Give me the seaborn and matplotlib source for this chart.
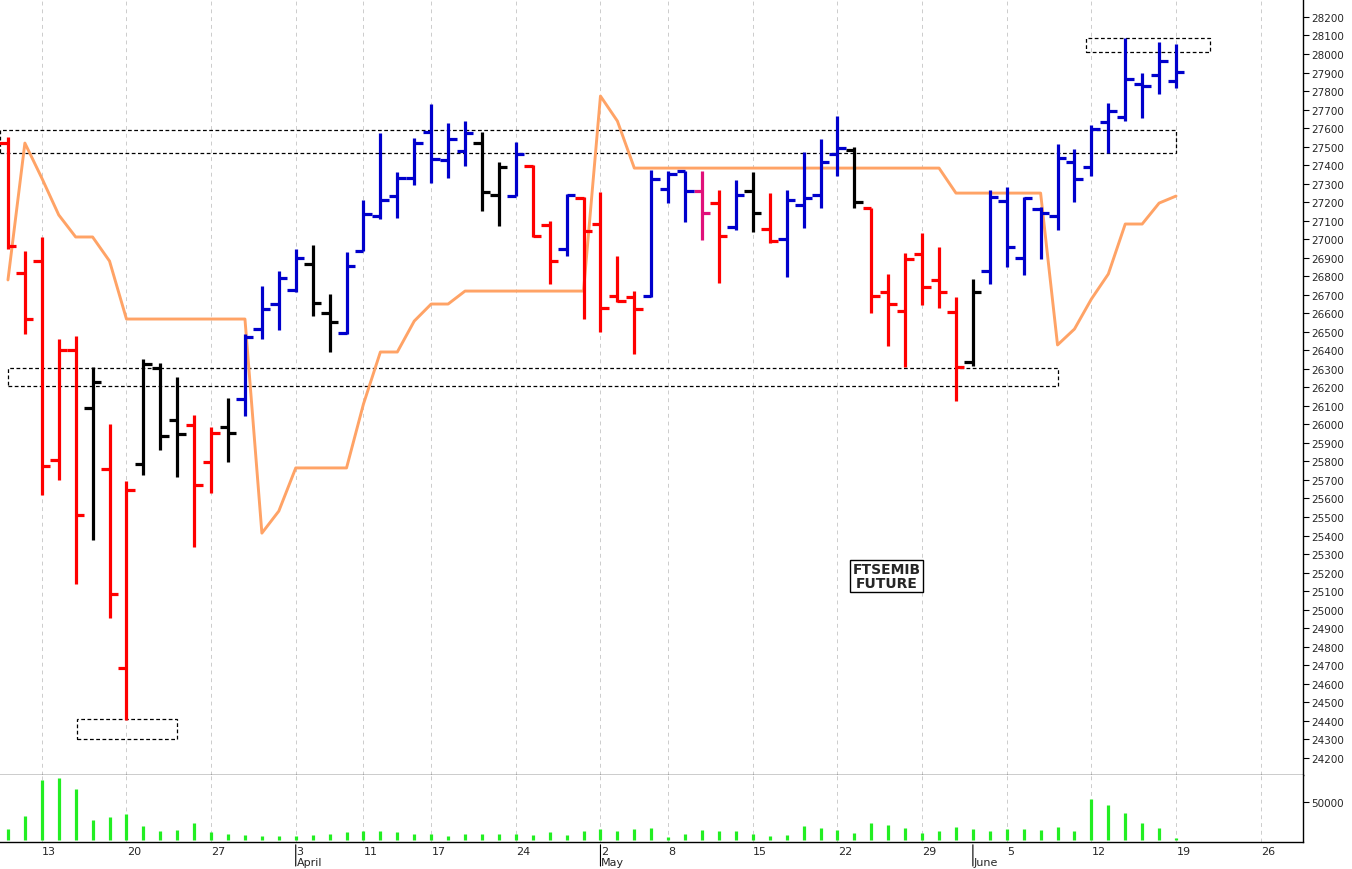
import numpy as np
import matplotlib
matplotlib.use("Agg")
import matplotlib.pyplot as plt
import matplotlib.transforms as mtrans
import seaborn as sns
import pandas as pd
from matplotlib.patches import Rectangle

opens = [27519,26817,26882,25808,26402,26088,25759,24684,25786,26304,26024,25997,25797,25986,26137,26515,26650,26726,26866,26601,
         26493,26936,27125,27233,27330,27579,27428,27476,27519,27239,27233,27395,27077,26947,27222,27082,26693,26688,26693,27271,
         27368,27260,27195,27066,27260,27055,27001,27185,27239,27460,27482,27168,26715,26612,26920,26780,26607,26337,26828,27206,
         26898,27163,27125,27417,27390,27633,27660,27838,27887,27854]
highs = [27552,26936,27012,26461,26477,26310,26002,25694,26353,26331,26256,26051,25986,26142,26488,26747,26828,26947,26968,26704,
         26931,27212,27573,27363,27547,27730,27627,27638,27579,27417,27525,27401,27098,27244,27228,27255,26909,26720,27374,27368,
         27368,27368,27266,27320,27363,27249,27266,27471,27541,27665,27498,27168,26812,26925,27033,26958,26688,26785,27266,27282,
         27228,27174,27514,27487,27617,27735,28086,27897,28065,28054]
lows = [26947,26488,25619,25700,25138,25376,24954,24404,25727,25862,25716,25338,25629,25797,26045,26461,26510,26715,26585,26391,
        26488,26936,27109,27114,27293,27303,27330,27395,27152,27071,27233,27012,26758,26909,26569,26499,26661,26380,26688,27195,
        27093,26996,26763,27050,27039,26979,26796,27060,27168,27341,27168,26601,26423,26310,26645,26628,26126,26315,26758,26850,
        26807,26893,27050,27201,27341,27465,27638,27654,27784,27816]
closes = [26963,26569,25775,26402,25511,26229,25084,25646,26326,25937,25948,25673,25953,25953,26472,26623,26790,26898,26655,26553,
          26855,27136,27212,27330,27519,27433,27541,27573,27255,27390,27460,27017,26882,27239,27044,26628,26666,26623,27325,27352,
          27260,27141,27017,27239,27141,26990,27212,27222,27417,27492,27201,26693,26650,26893,26742,26715,26310,26715,27228,26958,
          27222,27141,27438,27325,27595,27692,27865,27827,27962,27903]
bar_colors = (["r"]*5 + ["k"] + ["r"]*2 + ["k"]*3 + ["r"]*2 + ["k"] + ["b"]*4 + ["k"]*2 + ["b"]*8 + ["k"]*2 + ["b"] + ["r"]*2
              + ["b"] + ["r"]*4 + ["b"]*3 + ["m"] + ["r"] + ["b"] + ["k"] + ["r"] + ["b"]*4 + ["k"] + ["r"]*6 + ["k"] + ["b"]*12)
stop_line = [26780,27519,27330,27131,27012,27012,26882,26569,26569,26569,26569,26569,26569,26569,26569,25413,25532,25765,25765,25765,
             25765,26110,26391,26391,26558,26650,26650,26720,26720,26720,26720,26720,26720,26720,26720,27773,27638,27384,27384,27384,
             27384,27384,27384,27384,27384,27384,27384,27384,27384,27384,27384,27384,27384,27384,27384,27384,27249,27249,27249,27249,
             27249,27249,26429,26515,26677,26812,27082,27082,27195,27233]
volume = [15,32,80,82,68,27,31,35,19,12,14,23,11,8,7,5,5,5,7,8,
          11,12,12,11,8,8,5,8,8,8,8,7,11,7,12,15,12,15,16,4,
          8,14,12,12,8,5,7,19,16,14,9,23,20,16,9,12,18,15,12,15,
          15,14,18,12,54,46,36,23,16,3]
day_ticks = [2,7,12,17,21,25,30,35,39,44,49,54,59,64,69,74]
day_labels = ["13","20","27","3","11","17","24","2","8","15","22","29","5","12","19","26"]
month_pos = [17,35,57]
month_labels = ["April","May","June"]
price_ticks = list(range(24200, 28201, 100))

cmap = {"r": "#ff0000", "k": "#000000", "b": "#0000cc", "m": "#e0107a"}
n = len(opens)
x = np.arange(n)

sns.set_style("white")
plt.rcParams["axes.edgecolor"] = "black"
fig = plt.figure(figsize=(13.52, 8.7), dpi=100)
ax = fig.add_axes([0, 1-776/870, 1303/1352, 776/870])
axv = fig.add_axes([0, 1-843/870, 1303/1352, 67/870], sharex=ax)

xl = (-0.47, 76.5)
for a in (ax, axv):
    for t in day_ticks:
        a.axvline(t, color="#cccccc", lw=0.7, ls=(0, (4, 4)), zorder=0)

for (x0, x1, y0, y1) in [(63.7, 71.0, 28011, 28086), (xl[0], 69.0, 27465, 27590),
                         (0.0, 62.0, 26207, 26304), (4.1, 10.0, 24301, 24409)]:
    ax.add_patch(Rectangle((x0, y0), x1-x0, y1-y0, fill=False, ls=(0, (3, 2)), lw=0.9, ec="black", zorder=1))

df = pd.DataFrame({"x": x, "stop": stop_line})
sns.lineplot(data=df, x="x", y="stop", ax=ax, color="#ffa366", lw=2.1, zorder=2)

cols = [cmap[c] for c in bar_colors]
ax.vlines(x, lows, highs, colors=cols, lw=2.3, zorder=3)
ax.hlines(opens, x-0.5, x, colors=cols, lw=2.3, zorder=3)
ax.hlines(closes, x, x+0.5, colors=cols, lw=2.3, zorder=3)

ax.text(51.9, 25180, "FTSEMIB\nFUTURE", ha="center", va="center", fontsize=10, fontweight="bold",
        linespacing=1.0, bbox=dict(boxstyle="square,pad=0.15", fc="white", ec="black", lw=1))

ax.set_xlim(*xl)
ax.set_ylim(24107, 28297)
ax.yaxis.tick_right()
ax.set_yticks(price_ticks)
ax.set_yticklabels([str(p) for p in price_ticks], fontsize=7.5)
ax.tick_params(axis="y", length=4, pad=2, direction="out", color="black")
ax.tick_params(axis="x", length=0, labelbottom=False)
ax.set_xlabel(""); ax.set_ylabel("")
for s in ["left", "top"]:
    ax.spines[s].set_visible(False)
for s in ["right", "bottom"]:
    ax.spines[s].set_color("black"); ax.spines[s].set_linewidth(1)

axv.vlines(x, 0, [v*1000 for v in volume], colors="#22ee22", lw=2.3)
axv.set_ylim(-2500, 86500)
axv.yaxis.tick_right()
axv.set_yticks([50000])
axv.set_yticklabels(["50000"], fontsize=7.5)
axv.tick_params(axis="y", length=4, pad=2, color="black")
axv.set_xticks(day_ticks)
axv.set_xticklabels(day_labels, fontsize=8, ha="left")
axv.tick_params(axis="x", length=3, pad=0, direction="out", color="black")
off = mtrans.ScaledTranslation(0.5/100, 0, fig.dpi_scale_trans)
for lab in axv.get_xticklabels():
    lab.set_transform(lab.get_transform() + off)
for s in ["left", "top"]:
    axv.spines[s].set_visible(False)
for s in ["right", "bottom"]:
    axv.spines[s].set_color("black"); axv.spines[s].set_linewidth(1)

for mp, ml in zip(month_pos, month_labels):
    axv.annotate("", xy=(mp, 0), xycoords=("data", "axes fraction"), xytext=(mp, -0.40),
                 textcoords=("data", "axes fraction"), arrowprops=dict(arrowstyle="-", lw=0.8, color="black"))
    axv.text(mp + 0.05, -0.22, ml, transform=axv.get_xaxis_transform(), fontsize=8, ha="left", va="top")

fig.savefig("out.png", dpi=100, facecolor="white")
